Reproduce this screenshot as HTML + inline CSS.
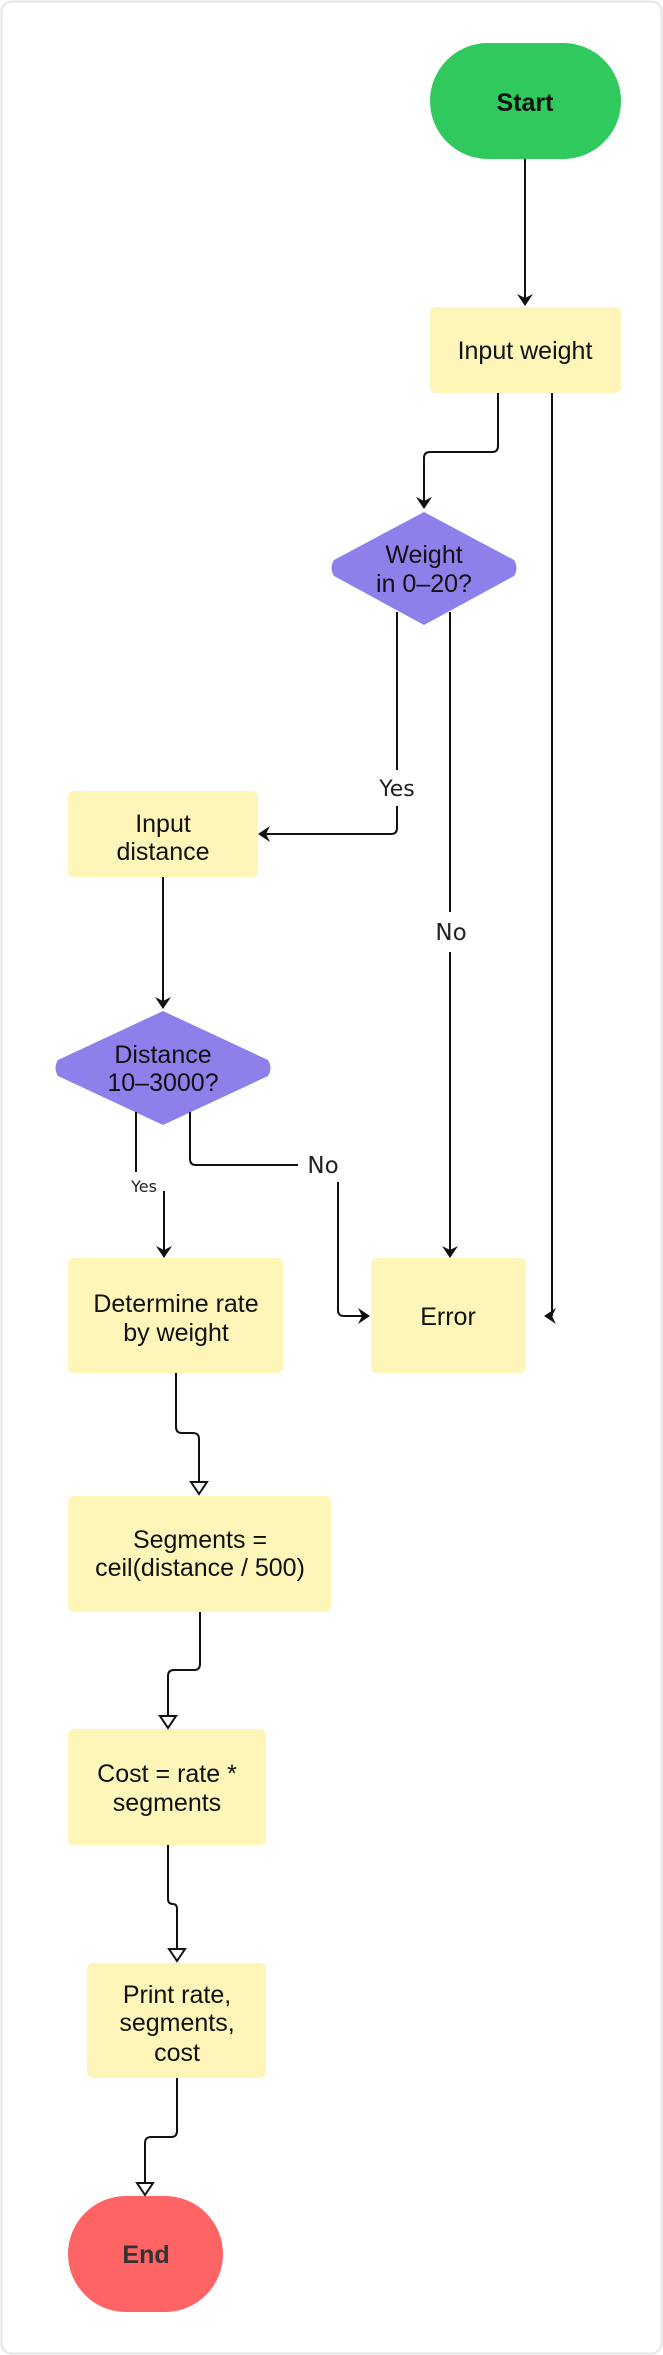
<!DOCTYPE html>
<html><head><meta charset="utf-8"><style>
html,body{margin:0;padding:0;background:#fff;}
svg{display:block;}
.t{font-family:"Liberation Sans",Arial,sans-serif;font-size:25px;fill:#111;text-anchor:middle;}
.l{font-family:"DejaVu Sans",sans-serif;fill:#222;text-anchor:middle;}
</style></head><body>
<svg width="663" height="2355" viewBox="0 0 663 2355" xmlns="http://www.w3.org/2000/svg">
<rect x="1.5" y="1.5" width="660" height="2352" rx="10" fill="#fff" stroke="#e3e5ea" stroke-width="2"/>
<!-- nodes -->
<rect x="430" y="43" width="191" height="116" rx="58" fill="#2fc95d"/>
<text class="t" x="525" y="111" font-weight="bold">Start</text>
<rect x="430" y="307" width="191" height="86" rx="6" fill="#fef5b8"/>
<text class="t" x="525" y="359">Input weight</text>
<path d="M424 512 L514 560 Q519 568 514 576 L424 625 L334 576 Q329 568 334 560 Z" fill="#8e80ea"/>
<text class="t" x="424" y="563">Weight</text>
<text class="t" x="424" y="592">in 0–20?</text>
<rect x="68" y="791" width="190" height="86" rx="6" fill="#fef5b8"/>
<text class="t" x="163" y="832">Input</text>
<text class="t" x="163" y="860">distance</text>
<path d="M163 1011 L268 1060 Q273 1068 268 1076 L163 1125 L58 1076 Q53 1068 58 1060 Z" fill="#8e80ea"/>
<text class="t" x="163" y="1063">Distance</text>
<text class="t" x="163" y="1091">10–3000?</text>
<rect x="68" y="1258" width="215" height="115" rx="6" fill="#fef5b8"/>
<text class="t" x="176" y="1312">Determine rate</text>
<text class="t" x="176" y="1341">by weight</text>
<rect x="371" y="1258" width="155" height="115" rx="6" fill="#fef5b8"/>
<text class="t" x="448" y="1325">Error</text>
<rect x="68" y="1496" width="263" height="116" rx="6" fill="#fef5b8"/>
<text class="t" x="200" y="1548">Segments =</text>
<text class="t" x="200" y="1576">ceil(distance / 500)</text>
<rect x="68" y="1729" width="198" height="116" rx="6" fill="#fef5b8"/>
<text class="t" x="167" y="1782">Cost = rate *</text>
<text class="t" x="167" y="1811">segments</text>
<rect x="87" y="1963" width="179" height="115" rx="6" fill="#fef5b8"/>
<text class="t" x="177" y="2003">Print rate,</text>
<text class="t" x="177" y="2031">segments,</text>
<text class="t" x="177" y="2061">cost</text>
<rect x="68" y="2196" width="155" height="116" rx="58" fill="#fe6464"/>
<text class="t" x="146" y="2263" font-weight="bold" fill="#333" style="fill:#333">End</text>
<!-- connectors -->
<g fill="none" stroke="#111" stroke-width="2">
<path d="M525 159 V300"/>
<path d="M498 393 V446 Q498 452 492 452 H430 Q424 452 424 458 V503"/>
<path d="M552 393 V1316"/>
<path d="M397 612 V770 M397 806 V828 Q397 834 391 834 H264"/>
<path d="M450 612 V912 M450 952 V1252"/>
<path d="M163 877 V1003"/>
<path d="M136 1112 V1172 M164 1191 V1252"/>
<path d="M190 1112 V1159 Q190 1165 196 1165 H298 M338 1182 V1310 Q338 1316 344 1316 H364"/>
<path d="M176 1373 V1427 Q176 1433 182 1433 H193 Q199 1433 199 1439 V1482"/>
<path d="M200 1612 V1664 Q200 1670 194 1670 H174 Q168 1670 168 1676 V1716"/>
<path d="M168 1845 V1899 Q168 1904 173 1904 Q177 1904 177 1909 V1949"/>
<path d="M177 2078 V2131 Q177 2137 171 2137 H151 Q145 2137 145 2143 V2183"/>
</g>
<!-- filled arrowheads -->
<g fill="#111">
<path d="M517 294 L525 306 L533 294 L525 298 Z"/>
<path d="M416 497 L424 509 L432 497 L424 501 Z"/>
<path d="M270 826 L258 834 L270 842 L266 834 Z"/>
<path d="M442 1246 L450 1258 L458 1246 L450 1250 Z"/>
<path d="M155 997 L163 1009 L171 997 L163 1001 Z"/>
<path d="M156 1246 L164 1258 L172 1246 L164 1250 Z"/>
<path d="M358 1308 L370 1316 L358 1324 L362 1316 Z"/>
<path d="M556 1308 L544 1316 L556 1324 L552 1316 Z"/>
</g>
<!-- open arrowheads -->
<g fill="#fff" stroke="#111" stroke-width="2">
<path d="M191 1482 L207 1482 L199 1494 Z"/>
<path d="M160 1716 L176 1716 L168 1728 Z"/>
<path d="M169 1949 L185 1949 L177 1961 Z"/>
<path d="M137 2183 L153 2183 L145 2195 Z"/>
</g>
<!-- labels -->
<text class="l" x="397" y="796" font-size="22">Yes</text>
<text class="l" x="451" y="940" font-size="23">No</text>
<text class="l" x="144" y="1192" font-size="16">Yes</text>
<text class="l" x="323" y="1173" font-size="23">No</text>
</svg>
</body></html>
